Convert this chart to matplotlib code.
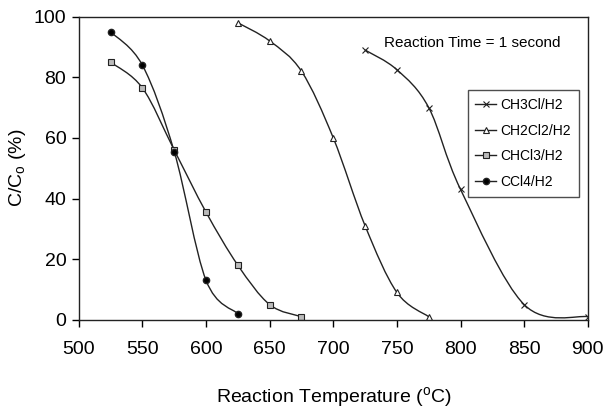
import matplotlib
matplotlib.use("Agg")
import matplotlib.pyplot as plt
import numpy as np
from matplotlib.path import Path
from matplotlib.patches import PathPatch

plt.rcParams['font.family'] = ['Liberation Sans', 'DejaVu Sans']
plt.rcParams['font.size'] = 13

# data
t_ch3cl = [725, 750, 775, 800, 850, 900]
c_ch3cl = [89, 82.5, 70, 43, 5, 1]
t_ch2cl2 = [625, 650, 675, 700, 725, 750, 775]
c_ch2cl2 = [98, 92, 82, 60, 31, 9, 1]
t_chcl3 = [525, 550, 575, 600, 625, 650, 675]
c_chcl3 = [85, 76.5, 56, 35.5, 18, 5, 1]
t_ccl4 = [525, 550, 575, 600, 625]
c_ccl4 = [95, 84, 55.5, 13, 2]


def smooth_path(xs, ys):
    # excel-like smoothed line: catmull-rom segments as cubic beziers
    pts = np.column_stack([xs, ys]).astype(float)
    verts = [pts[0]]
    codes = [Path.MOVETO]
    n = len(pts)
    for i in range(n - 1):
        p0 = pts[i - 1] if i > 0 else pts[i]
        p1 = pts[i]
        p2 = pts[i + 1]
        p3 = pts[i + 2] if i + 2 < n else pts[i + 1]
        c1 = p1 + (p2 - p0) / 6.0
        c2 = p2 - (p3 - p1) / 6.0
        verts += [c1, c2, p2]
        codes += [Path.CURVE4] * 3
    return Path(verts, codes)


fig, ax = plt.subplots(figsize=(6.06, 4.18), dpi=100)
fig.subplots_adjust(left=0.13, right=0.97, bottom=0.235, top=0.96)

series = [
    (t_ch3cl, c_ch3cl, 'CH3Cl/H2', dict(marker='x', ms=4, mew=0.8, mfc='none')),
    (t_ch2cl2, c_ch2cl2, 'CH2Cl2/H2', dict(marker='^', ms=4, mew=0.8, mfc='white')),
    (t_chcl3, c_chcl3, 'CHCl3/H2', dict(marker='s', ms=4, mew=0.8, mfc='#bbbbbb')),
    (t_ccl4, c_ccl4, 'CCl4/H2', dict(marker='o', ms=4.5, mfc='black')),
]
for xs, ys, lab, mk in series:
    ax.add_patch(PathPatch(smooth_path(xs, ys), fill=False, edgecolor='#222222', lw=1.0))
    ax.plot(xs, ys, ls='none', color='#222222', label=lab, **mk)

# proxy handles for legend with line + marker
handles = [plt.Line2D([], [], color='#222222', lw=1.0, **mk) for _, _, _, mk in series]
labels = [s[2] for s in series]
leg = ax.legend(handles, labels, loc='upper right', bbox_to_anchor=(0.982, 0.758),
                fontsize=10, frameon=True, fancybox=False, edgecolor='#222222',
                handlelength=1.5, handletextpad=0.3, borderpad=0.55, labelspacing=0.85,
                borderaxespad=0)
leg.get_frame().set_linewidth(1.0)

ax.text(0.60, 0.912, 'Reaction Time = 1 second', transform=ax.transAxes,
        fontsize=11, va='center')

ax.set_xlim(500, 900)
ax.set_ylim(0, 100)
ax.set_xticks(range(500, 901, 50))
ax.set_yticks(range(0, 101, 20))
ax.tick_params(direction='out', length=5, width=1, labelsize=14, pad=10)
ax.tick_params(axis='y', pad=4)
for s in ax.spines.values():
    s.set_linewidth(1.0)
    s.set_color('#222222')

ax.set_xlabel(r'Reaction Temperature ($\mathregular{^oC}$)', fontsize=14, labelpad=20)
ax.set_ylabel(r'C/C$\mathregular{_o}$ (%)', fontsize=14, labelpad=4)

fig.savefig('out.png', dpi=100)
